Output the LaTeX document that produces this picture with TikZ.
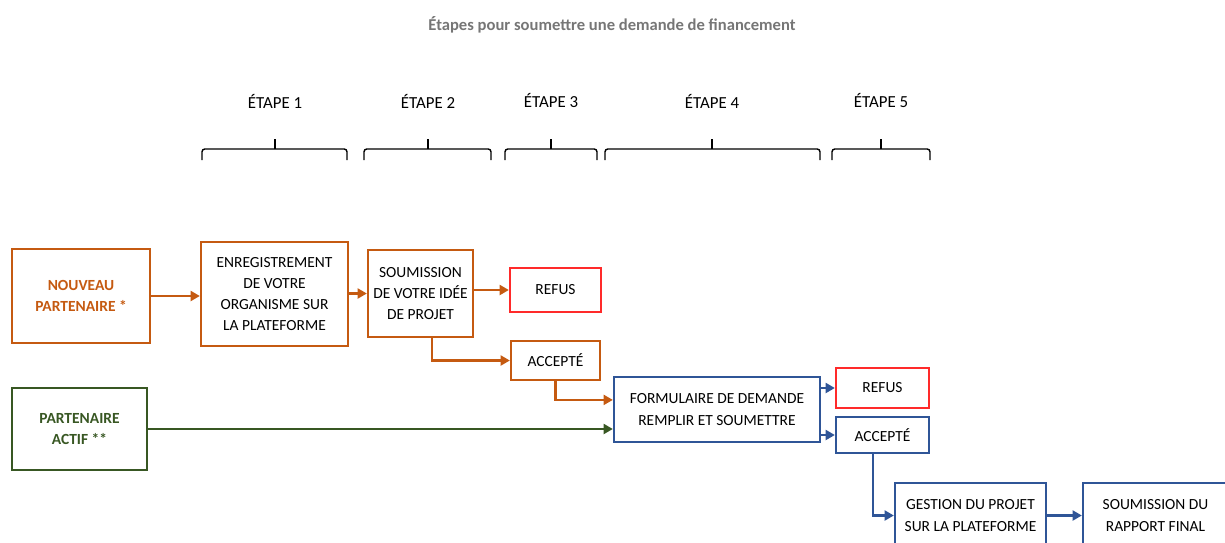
\documentclass[tikz,border=0pt]{standalone}
\usepackage{fontspec}
\setmainfont{Carlito}
\usetikzlibrary{arrows.meta}

\definecolor{brique}{HTML}{C55A11}
\definecolor{sapin}{HTML}{385723}
\definecolor{marine}{HTML}{2F5597}
\definecolor{rouge}{HTML}{FF2A2A}
\definecolor{gristitre}{HTML}{767676}

\tikzset{
  boite/.style={draw, line width=1.6pt, align=center, inner sep=2pt,
    font=\fontsize{11}{15}\selectfont},
  fleche/.style={line width=1.6pt, -{Triangle[length=6.5pt,width=7pt]}},
  accolade/.style={line width=1pt, rounded corners=2pt},
}

\begin{document}
\begin{tikzpicture}[x=0.025cm, y=-0.025cm]
\path[use as bounding box] (0,0) rectangle (1225,542);
\clip (0,0) rectangle (1225,542);

\node (titre) at (612,25) {\fontsize{11.8}{14}\selectfont\bfseries\color{gristitre}Étapes pour soumettre une demande de financement};

\foreach \a/\m/\b/\n in {202/275/347/1, 364/428/491/2, 505/551/597/3, 605/712/820/4, 832/881/930/5}{
  \draw[accolade] (\a,160) -- (\a,149) -- (\b,149) -- (\b,160);
  \draw[line width=1pt] (\m,149) -- (\m,139);
  \node[font=\fontsize{12}{14}\selectfont] (etape\n) at (\m,101) {ÉTAPE \n};
}

\node[boite, brique, minimum width=3.45cm, minimum height=2.35cm] (nouveau) at (81,296)
  {\bfseries NOUVEAU\\\bfseries PARTENAIRE *};
\node[boite, brique, text=black, minimum width=3.675cm, minimum height=2.6cm] (enreg) at (274.5,294)
  {ENREGISTREMENT\\DE VOTRE\\ORGANISME SUR\\LA PLATEFORME};
\node[boite, brique, text=black, minimum width=2.625cm, minimum height=2.175cm] (idee) at (420.5,293.5)
  {SOUMISSION\\DE VOTRE IDÉE\\DE PROJET};
\node[boite, rouge, text=black, minimum width=2.275cm, minimum height=1.1cm] (refusA) at (555.5,290) {REFUS};
\node[boite, brique, text=black, minimum width=2.225cm, minimum height=0.975cm] (accepteA) at (555.5,360.5) {ACCEPTÉ};

\node[boite, sapin, minimum width=3.375cm, minimum height=2.05cm] (actif) at (79.5,429)
  {\bfseries PARTENAIRE\\\bfseries ACTIF **};

\node[boite, marine, text=black, minimum width=5.15cm, minimum height=1.625cm] (formulaire) at (717,409.5)
  {FORMULAIRE DE DEMANDE\\REMPLIR ET SOUMETTRE};
\node[boite, rouge, text=black, minimum width=2.325cm, minimum height=1cm] (refusB) at (882.5,388) {REFUS};
\node[boite, marine, text=black, minimum width=2.325cm, minimum height=0.9cm] (accepteB) at (882.5,435) {ACCEPTÉ};
\node[boite, marine, text=black, minimum width=3.775cm, minimum height=1.625cm] (gestion) at (970.5,515.5)
  {GESTION DU PROJET\\SUR LA PLATEFORME};
\node[boite, marine, text=black, minimum width=3.625cm, minimum height=1.625cm] (rapport) at (1155.5,515.5)
  {SOUMISSION DU\\RAPPORT FINAL};

\draw[fleche, brique] (nouveau.east) -- (nouveau.east -| enreg.west);
\draw[fleche, brique] (idee.west -| enreg.east) -- (idee.west);
\draw[fleche, brique] (refusA.west -| idee.east) -- (refusA.west);
\draw[fleche, brique] ([xshift=0.29cm]idee.south) |- (accepteA.west);
\draw[fleche, brique] (accepteA.south) |- ([yshift=0.24cm]formulaire.west);
\draw[fleche, sapin] (actif.east) -- (actif.east -| formulaire.west);
\draw[fleche, marine] (formulaire.east |- refusB.west) -- (refusB.west);
\draw[fleche, marine] (formulaire.east |- accepteB.west) -- (accepteB.west);
\draw[fleche, marine] ([xshift=-0.24cm]accepteB.south) |- (gestion.west);
\draw[fleche, marine] (gestion.east) -- (rapport.west);
\end{tikzpicture}
\end{document}
